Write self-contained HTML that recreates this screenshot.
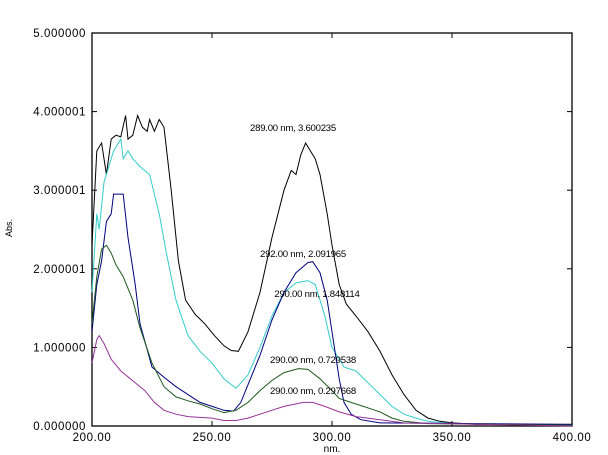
<!DOCTYPE html>
<html><head><meta charset="utf-8"><style>
body{margin:0;background:#fff;}
svg{display:block;font-family:"Liberation Sans",sans-serif;}
</style></head><body>
<svg id="c" width="608" height="455" xmlns="http://www.w3.org/2000/svg">
<rect x="0" y="0" width="608" height="455" fill="#fff"/>
<g id="grid"></g>
<g id="series"></g>
<g id="labels"></g>
</svg>
<script>
const xTicks=[200,250,300,350,400];
const xTickLabels=["200.00","250.00","300.00","350.00","400.00"];
const yTicks=[0,1,2,3,4,5];
const yTickLabels=["0.000000","1.000000","2.000001","3.000001","4.000001","5.000000"];
const blackW=[200,202,204,206,208,210,212,214,215,217,219,221,223,224,226,228,230,233,236,239,243,247,251,255,258,261,265,270,275,280,283,285,287,289,291,293,295,298,300,303,306,310,315,320,325,330,335,340,345,350,360,400];
const blackA=[2.3,3.5,3.6,3.2,3.65,3.7,3.68,3.95,3.65,3.7,3.95,3.8,3.75,3.9,3.75,3.9,3.8,3.0,2.1,1.6,1.42,1.3,1.15,1.02,0.96,0.95,1.2,1.7,2.4,3.0,3.25,3.2,3.45,3.6,3.5,3.4,3.2,2.7,2.3,1.8,1.55,1.4,1.2,0.95,0.65,0.4,0.2,0.1,0.06,0.04,0.02,0.02];
const cyanW=[200,202,203,205,207,209,211,212,213,215,217,220,224,228,231,235,240,245,250,255,260,265,270,275,280,285,290,293,297,300,305,310,315,320,325,330,335,340,350,400];
const cyanA=[1.7,2.7,2.5,3.1,3.3,3.5,3.6,3.65,3.4,3.5,3.4,3.3,3.2,2.7,2.2,1.6,1.15,0.95,0.8,0.6,0.48,0.65,1.0,1.4,1.7,1.82,1.85,1.8,1.4,1.0,0.75,0.7,0.55,0.4,0.25,0.15,0.1,0.06,0.03,0.01];
const navyW=[200,202,204,206,208,209,211,213,215,218,220,225,230,235,240,245,250,255,259,262,266,270,275,280,285,290,292,295,298,300,303,305,308,312,320,400];
const navyA=[1.2,1.8,2.1,2.6,2.7,2.95,2.95,2.95,2.4,1.8,1.3,0.75,0.62,0.5,0.4,0.3,0.25,0.2,0.19,0.3,0.6,0.9,1.35,1.7,1.95,2.08,2.09,1.95,1.6,1.2,0.6,0.3,0.15,0.08,0.04,0.02];
const greenW=[200,202,204,206,208,210,213,217,220,225,230,235,240,245,250,255,260,265,270,275,280,286,290,295,300,303,310,316,320,325,330,340,400];
const greenA=[1.3,1.9,2.25,2.3,2.2,2.05,1.9,1.6,1.25,0.8,0.5,0.37,0.32,0.28,0.22,0.17,0.2,0.3,0.45,0.58,0.68,0.73,0.72,0.6,0.45,0.35,0.28,0.22,0.18,0.1,0.06,0.03,0.01];
const purpleW=[200,202,203,205,208,212,218,222,226,230,235,240,250,255,260,265,270,280,288,292,297,303,310,320,330,400];
const purpleA=[0.8,1.1,1.15,1.05,0.85,0.7,0.55,0.45,0.3,0.2,0.15,0.12,0.1,0.07,0.07,0.1,0.15,0.25,0.3,0.3,0.25,0.18,0.12,0.08,0.04,0.0];
const annotations=["289.00 nm, 3.600235","292.00 nm, 2.091965","290.00 nm, 1.848114","290.00 nm, 0.729538","290.00 nm, 0.297668"];

const X0=92,X1=572,Y0=426,Y1=33;
const sx=w=>X0+(w-200)/200*(X1-X0);
const sy=a=>Y0-a/5*(Y0-Y1);
const NS="http://www.w3.org/2000/svg";
function mk(t,p,at){const e=document.createElementNS(NS,t);for(const k in at)e.setAttribute(k,at[k]);p.appendChild(e);return e;}
const g=document.getElementById('grid'),s=document.getElementById('series'),lb=document.getElementById('labels');
const frame=mk('rect',g,{x:X0,y:Y1,width:X1-X0,height:Y0-Y1,fill:'none',stroke:'#000','stroke-width':1.3});


xTicks.forEach((v,i)=>{
 const x=sx(v);
 const t=mk('line',g,{x1:x,x2:x,y1:Y0,y2:Y0-5,stroke:'#000'});
 
 
 const t2=mk('line',g,{x1:x,x2:x,y1:Y1,y2:Y1+5,stroke:'#000'});
 
 
 const l=mk('text',lb,{x:x,y:Y0+15,'font-size':11.5,'text-anchor':'middle','letter-spacing':'0.6'});
 l.textContent=xTickLabels[i];
 
 
});
yTicks.forEach((v,i)=>{
 const y=sy(v);
 const t=mk('line',g,{x1:X0,x2:X0+5,y1:y,y2:y,stroke:'#000'});
 
 
 const t2=mk('line',g,{x1:X1,x2:X1-5,y1:y,y2:y,stroke:'#000'});
 
 
 const l=mk('text',lb,{x:X0-6,y:y+4,'font-size':11.5,'text-anchor':'end','letter-spacing':'0.6'});
 l.textContent=yTickLabels[i];
 
 
});
const series=[[blackW,blackA,'#000','series-black'],[cyanW,cyanA,'#33cccc','series-cyan'],[navyW,navyA,'#000080','series-navy'],[greenW,greenA,'#1e5a1e','series-green'],[purpleW,purpleA,'#993399','series-purple']];
series.forEach(([W,A,c,n])=>{
 const d=W.map((w,i)=>(i?'L':'M')+sx(w).toFixed(1)+','+sy(A[i]).toFixed(1)).join('');
 const p=mk('path',s,{d:d,fill:'none',stroke:c,'stroke-width':1});
 
 
});
const ys=[131,257,297,363,394];const xs=[293,303,317,313,313];
annotations.forEach((t,i)=>{
 const e=mk('text',lb,{x:xs[i],y:ys[i],'font-size':9.6,'text-anchor':'middle','letter-spacing':'-0.25'});
 e.textContent=t;
 
 
});
const yt=mk('text',lb,{x:12,y:228,'font-size':9,'text-anchor':'middle',transform:'rotate(-90 12 228)'});
yt.textContent='Abs.';


const xt=mk('text',lb,{x:332,y:452,'font-size':10,'text-anchor':'middle'});
xt.textContent='nm.';


</script>
</body></html>
